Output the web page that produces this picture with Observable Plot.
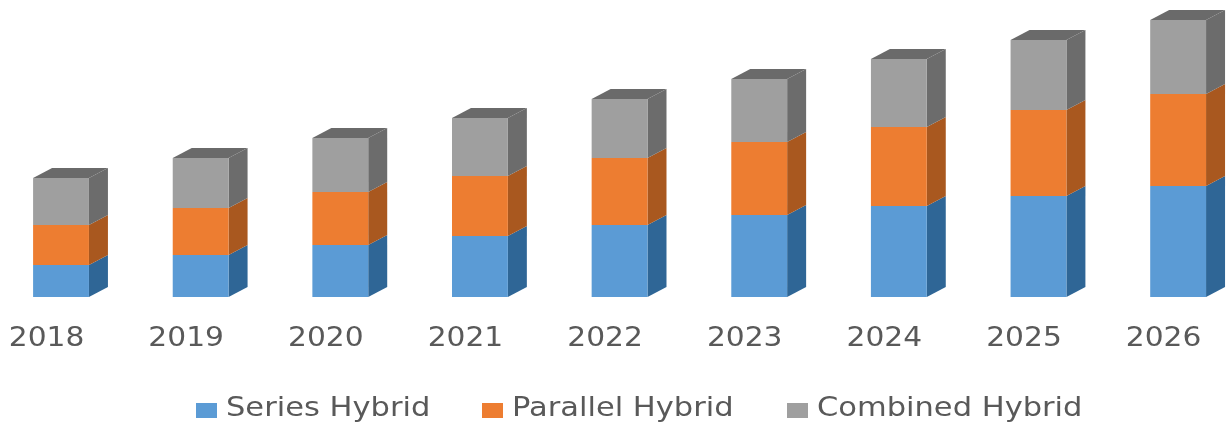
<!DOCTYPE html>
<html>
<head>
<meta charset="utf-8">
<script src="https://cdn.jsdelivr.net/npm/d3@7"></script>
<script src="https://cdn.jsdelivr.net/npm/@observablehq/plot@0.6"></script>
<style>
html,body{margin:0;padding:0;background:#fff;overflow:hidden}
#chart{width:1227px;height:423px;position:relative;font-family:"DejaVu Sans",sans-serif}
#chart svg{display:block;filter:blur(.7px)}
.legend{display:flex;height:35px;padding-top:1px;align-items:center;color:#595959;font-size:27px;padding-left:196px;filter:blur(.5px);white-space:nowrap;line-height:1}
.legend i{display:inline-block;flex:none;width:21px;height:15px;margin-right:9px;position:relative;top:4px}
.legend span{display:flex;align-items:center}
.legend span:nth-child(1){width:286px}
.legend span:nth-child(2){width:305px}
.legend b{font-weight:normal;display:inline-block;transform:scaleX(1.13);transform-origin:left center}
</style>
</head>
<body>
<div id="chart"></div>
<script>
const years = [2018, 2019, 2020, 2021, 2022, 2023, 2024, 2025, 2026];
const seriesHybrid   = [3.2, 4.2, 5.2, 6.1, 7.2, 8.2, 9.1, 10.1, 11.1];
const parallelHybrid = [4.0, 4.7, 5.3, 6.0, 6.7, 7.3, 7.9, 8.6, 9.2];
const combinedHybrid = [4.7, 5.0, 5.4, 5.8, 5.9, 6.3, 6.8, 7.0, 7.4];
const names = ["Series Hybrid", "Parallel Hybrid", "Combined Hybrid"];
const frontColors = ["#5b9bd5", "#ed7d31", "#9f9f9f"];
const sideColors  = ["#2f6696", "#a9581f", "#6c6c6c"];
const topColor = "#6a6a6a";

const halfWidth = 0.2;   // bar half width, in years
const depthX = 0.136;    // 3D depth, in years
const depthY = 1.0;      // 3D rise, in value units

const layers = [seriesHybrid, parallelHybrid, combinedHybrid];
const front = [], side = [], tops = [];
years.forEach((year, i) => {
  let lo = 0;
  layers.forEach((values, s) => {
    const hi = lo + values[i];
    front.push({year, lo, hi, fill: frontColors[s]});
    const right = year + halfWidth;
    side.push({key: year + "-" + s, x: right, lo, hi, fill: sideColors[s]});
    side.push({key: year + "-" + s, x: right + depthX, lo: lo + depthY, hi: hi + depthY, fill: sideColors[s]});
    lo = hi;
  });
  const l = year - halfWidth, r = year + halfWidth;
  tops.push({key: year, x: l, lo, hi: lo});
  tops.push({key: year, x: l + depthX, lo, hi: lo + depthY});
  tops.push({key: year, x: r, lo, hi: lo + depthY});
  tops.push({key: year, x: r + depthX, lo: lo + depthY, hi: lo + depthY});
});

const plot = Plot.plot({
  width: 1227,
  height: 388,
  marginTop: 0, marginLeft: 0, marginRight: 0, marginBottom: 91,
  x: {domain: [2017.563, 2026.35]},
  y: {domain: [0, 29.7], axis: null},
  style: {fontFamily: '"DejaVu Sans", sans-serif', background: "#fff"},
  marks: [
    Plot.areaY(side, {x: "x", y1: "lo", y2: "hi", z: "key", fill: "fill", curve: "linear"}),
    Plot.areaY(tops, {x: "x", y1: "lo", y2: "hi", z: "key", fill: topColor, curve: "linear"}),
    Plot.rect(front, {
      x1: d => d.year - halfWidth,
      x2: d => d.year + halfWidth,
      y1: "lo", y2: "hi", fill: "fill"
    }),
    Plot.axisX({
      ticks: years, tickFormat: "d", tickSize: 0, tickPadding: 29, label: null,
      fontSize: 27, dx: -15, fill: "#595959"
    })
  ]
});
plot.querySelectorAll('g[aria-label="x-axis tick label"] text').forEach(t => {
  t.setAttribute("transform", (t.getAttribute("transform") || "") + " scale(1.1,1)");
});

const legend = document.createElement("div");
legend.className = "legend";
names.forEach((name, s) => {
  const span = document.createElement("span");
  const sw = document.createElement("i");
  sw.style.background = frontColors[s];
  const label = document.createElement("b");
  label.textContent = name;
  span.append(sw, label);
  legend.append(span);
});
document.getElementById("chart").append(plot, legend);
</script>
</body>
</html>
